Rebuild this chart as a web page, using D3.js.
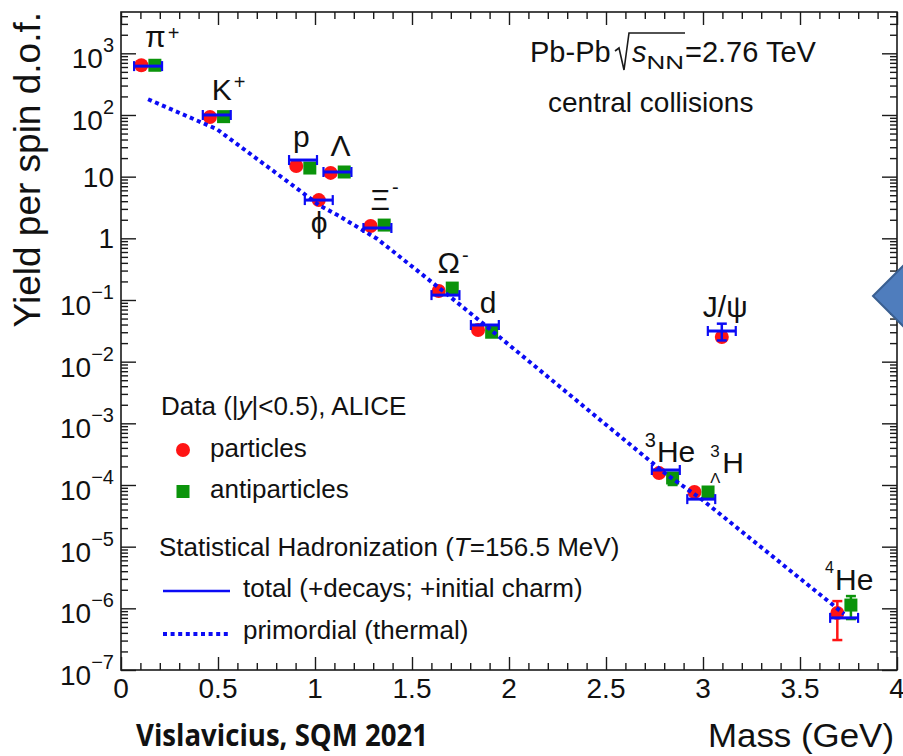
<!DOCTYPE html>
<html><head><meta charset="utf-8">
<script src="https://cdn.jsdelivr.net/npm/d3@7"></script>
<style>
html,body{margin:0;padding:0;background:#fff;}
svg{display:block;}
text{font-family:"Liberation Sans",Arial,Helvetica,sans-serif;fill:#111;}
</style></head><body>
<svg id="chart" width="903" height="756"></svg>
<script>
// ---------------- data ----------------
const species = ["pi+","K+","p","phi","Lambda","Xi-","Omega-","d","3He","3LH","J/psi","4He"];
const labelBase = ["π","K","p","ϕ","Λ","Ξ","Ω","d","He","H","J/ψ","He"];
const labelSup  = ["+","+","","","","-","-","","","","",""];
const labelPre  = ["","","","","","","","","3","3","","4"];
const labelPreSub = ["","","","","","","","","","Λ","",""];
const masses = [0.1396,0.4937,0.9383,1.0195,1.1157,1.3217,1.6725,1.8756,2.8084,2.991,3.0969,3.7274];
const particleYield     = [640,93,14.9,4.17,11.5,1.58,0.140,0.0326,1.56e-4,7.7e-5,0.0251,8.4e-7];
const antiparticleYield = [640,94,13.8,null,11.9,1.64,0.156,0.030,1.30e-4,7.7e-5,null,1.13e-6];
const modelTotal        = [620,100,18.6,4.17,11.9,1.47,0.12,0.0393,1.75e-4,5.9e-5,0.0314,7.0e-7];
const particleErr     = [null,null,null,null,null,null,null,null,null,null,null,[3.06e-7,1.31e-6]];
const antiparticleErr = [null,null,null,null,null,null,null,null,[1.0e-4,1.30e-4],null,null,[6.7e-7,1.58e-6]];
const modelErr        = [null,null,null,null,null,null,null,null,null,null,[0.0221,0.0413],null];
const hasAnti = [true,true,true,false,true,true,true,true,true,true,false,true];
const primordialMass  = [0.1396,0.4937,0.9383,1.0195,1.1157,1.3217,1.6725,1.8756,2.8084,2.991,3.7274];
const primordialYield = [180,59,5.43,3.47,2.38,0.975,0.130,0.0393,1.51e-4,5.93e-5,8.1e-7];
const xTicks = [0,0.5,1,1.5,2,2.5,3,3.5,4];
const yTickExponents = [-7,-6,-5,-4,-3,-2,-1,0,1,2,3];

// ---------------- layout / style ----------------
const X0=121,X1=897,Y0=670,Y1=12;
const BLUE="#0b0bf5", RED="#ff1414", GREEN="#0b940b", INK="#1a1a1a";
const markerOffset = 0.035, barHalf = 0.072;
// label offsets relative to particle point: [dx, dy, supDy, preDy]
const labelLayout = [[-3,-18,-7,0],[-5,-17,-11,0],[-10,-19,0,0],[-8,33,0,0],[-7,-17,0,0],[-7,-16,-16,0],
  [-8,-18,-11,0],[-5,-17,0,0],[-21,-11,0,-15],[9,-19,0,-16],[-19,-20,0,0],[-19,-23,0,-17]];
const preSize = [0,0,0,0,0,0,0,0,20,17,0,16];

const svg = d3.select("#chart");
svg.append("rect").attr("width",903).attr("height",756).attr("fill","#fff");
const x = d3.scaleLinear().domain([0,4]).range([X0,X1]);
const y = d3.scaleLog().domain([1e-7, Math.pow(10,3.67)]).range([Y0,Y1]);

// ---------------- axes ----------------
function clean(g){ g.select(".domain").remove(); g.selectAll(".tick text").remove();
  g.selectAll(".tick line").attr("stroke",INK).attr("stroke-width",1.4); }
const xMinor = d3.range(1,40).map(i=>i/10).filter(v=>Math.abs(v*2-Math.round(v*2))>1e-6);
const yMajor = yTickExponents.map(e=>Math.pow(10,e));
const yMinor = [];
yTickExponents.forEach(e=>{ for(let k=2;k<=9;k++){ const v=k*Math.pow(10,e); if(v<y.domain()[1]) yMinor.push(v);} });

svg.append("g").attr("transform",`translate(0,${Y0})`).call(d3.axisBottom(x).tickValues(xTicks).tickSizeInner(-13).tickSizeOuter(0).tickFormat("")).call(clean);
svg.append("g").attr("transform",`translate(0,${Y0})`).call(d3.axisBottom(x).tickValues(xMinor).tickSizeInner(-7).tickSizeOuter(0).tickFormat("")).call(clean);
svg.append("g").attr("transform",`translate(0,${Y1})`).call(d3.axisTop(x).tickValues(xTicks).tickSizeInner(-13).tickSizeOuter(0).tickFormat("")).call(clean);
svg.append("g").attr("transform",`translate(0,${Y1})`).call(d3.axisTop(x).tickValues(xMinor).tickSizeInner(-7).tickSizeOuter(0).tickFormat("")).call(clean);
svg.append("g").attr("transform",`translate(${X0},0)`).call(d3.axisLeft(y).tickValues(yMajor).tickSizeInner(-15).tickSizeOuter(0).tickFormat("")).call(clean);
svg.append("g").attr("transform",`translate(${X0},0)`).call(d3.axisLeft(y).tickValues(yMinor).tickSizeInner(-7).tickSizeOuter(0).tickFormat("")).call(clean);
svg.append("g").attr("transform",`translate(${X1},0)`).call(d3.axisRight(y).tickValues(yMajor).tickSizeInner(-15).tickSizeOuter(0).tickFormat("")).call(clean);
svg.append("g").attr("transform",`translate(${X1},0)`).call(d3.axisRight(y).tickValues(yMinor).tickSizeInner(-7).tickSizeOuter(0).tickFormat("")).call(clean);
svg.append("rect").attr("x",X0).attr("y",Y1).attr("width",X1-X0).attr("height",Y0-Y1)
  .attr("fill","none").attr("stroke",INK).attr("stroke-width",1.6);

// tick labels
svg.append("g").selectAll("text").data(xTicks).join("text")
  .attr("x",d=>x(d)).attr("y",698).attr("text-anchor","middle").attr("font-size",28).text(d=>String(d));
yTickExponents.forEach(e=>{
  const ty = y(Math.pow(10,e));
  if(e===0||e===1){
    svg.append("text").attr("x",114).attr("y",ty+10).attr("text-anchor","end").attr("font-size",28).text(e===0?"1":"10");
  } else {
    const t = svg.append("text").attr("x",114).attr("y",ty+15).attr("text-anchor","end").attr("font-size",28);
    t.append("tspan").text("10");
    t.append("tspan").attr("font-size",20).attr("dy",-16).text((e<0?"\u2212":"")+Math.abs(e));
  }
});

// axis titles
svg.append("text").attr("transform","translate(40,12) rotate(-90)").attr("text-anchor","end")
  .attr("font-size",37).text("Yield per spin d.o.f.");
svg.append("text").attr("x",894).attr("y",747).attr("text-anchor","end").attr("font-size",33)
  .attr("textLength",186).attr("lengthAdjust","spacingAndGlyphs").text("Mass (GeV)");

// ---------------- data marks ----------------
const gErr = svg.append("g");
function vErr(g, xp, lo, hi, color, cap){
  g.append("line").attr("x1",xp).attr("x2",xp).attr("y1",y(lo)).attr("y2",y(hi)).attr("stroke",color).attr("stroke-width",2.5);
  [lo,hi].forEach(v=>g.append("line").attr("x1",xp-cap).attr("x2",xp+cap).attr("y1",y(v)).attr("y2",y(v)).attr("stroke",color).attr("stroke-width",2.5));
}
masses.forEach((m,i)=>{
  const xp = hasAnti[i] ? x(m-markerOffset) : x(m);
  if(particleErr[i]) vErr(gErr, xp, particleErr[i][0], particleErr[i][1], RED, 5);
  if(antiparticleErr[i]) vErr(gErr, x(m+markerOffset), antiparticleErr[i][0], antiparticleErr[i][1], GREEN, 5);
});
svg.append("g").selectAll("circle").data(masses).join("circle")
  .attr("cx",(m,i)=>hasAnti[i]?x(m-markerOffset):x(m)).attr("cy",(m,i)=>y(particleYield[i]))
  .attr("r",7).attr("fill",RED);
svg.append("g").selectAll("rect").data(masses.filter((m,i)=>antiparticleYield[i]!=null)).join("rect")
  .each(function(m){
    const i = masses.indexOf(m);
    d3.select(this).attr("x",x(m+markerOffset)-6.5).attr("y",y(antiparticleYield[i])-6.5)
      .attr("width",13).attr("height",13).attr("fill",GREEN);
  });

// primordial dotted line
svg.append("path").datum(primordialMass.map((m,i)=>[m,primordialYield[i]]))
  .attr("d",d3.line().x(d=>x(d[0])).y(d=>y(d[1])))
  .attr("fill","none").attr("stroke",BLUE).attr("stroke-width",4).attr("stroke-dasharray","4,3.6");

// model total bars
const gBar = svg.append("g");
masses.forEach((m,i)=>{
  const yy = y(modelTotal[i]);
  gBar.append("line").attr("x1",x(m-barHalf)).attr("x2",x(m+barHalf)).attr("y1",yy).attr("y2",yy)
    .attr("stroke",BLUE).attr("stroke-width",3);
  [m-barHalf,m+barHalf].forEach(v=>gBar.append("line").attr("x1",x(v)).attr("x2",x(v))
    .attr("y1",yy-5).attr("y2",yy+5).attr("stroke",BLUE).attr("stroke-width",2.2));
  if(modelErr[i]) vErr(gBar, x(m), modelErr[i][0], modelErr[i][1], BLUE, 5);
});

// particle labels
masses.forEach((m,i)=>{
  const L = labelLayout[i];
  const g = svg.append("g").attr("transform",`translate(${x(m)+L[0]},${y(particleYield[i])+L[1]})`);
  let bx = 0;
  if(labelPre[i]){
    const p = g.append("text").attr("x",0).attr("y",L[3]).attr("font-size",preSize[i]).text(labelPre[i]);
    bx = p.node().getComputedTextLength()+1;
    if(labelPreSub[i]){
      const s = g.append("text").attr("x",0).attr("y",10).attr("font-size",15).text(labelPreSub[i]);
      bx = Math.max(bx, s.node().getComputedTextLength()+2);
    }
  }
  const b = g.append("text").attr("x",bx).attr("y",0).attr("font-size",30).text(labelBase[i]);
  if(labelSup[i]){
    const w = b.node().getComputedTextLength();
    g.append("text").attr("x",bx+w+2).attr("y",L[2]).attr("font-size",20).text(labelSup[i]);
  }
});

// ---------------- header texts ----------------
const t1 = svg.append("text").attr("x",530).attr("y",62).attr("font-size",29).text("Pb-Pb");
svg.append("path").attr("d","M615,51 L619,48 L624,70 L629,33 L685,33").attr("fill","none")
  .attr("stroke",INK).attr("stroke-width",1.6);
const ts = svg.append("text").attr("x",632).attr("y",62).attr("font-size",29).attr("font-style","italic").text("s");
const wsx = 632 + ts.node().getComputedTextLength();
svg.append("text").attr("x",wsx).attr("y",69).attr("font-size",19).attr("textLength",685-wsx-1)
  .attr("lengthAdjust","spacingAndGlyphs").text("NN");
svg.append("text").attr("x",685).attr("y",62).attr("font-size",29).text("=2.76 TeV");
svg.append("text").attr("x",548).attr("y",112).attr("font-size",28).text("central collisions");

// ---------------- legend ----------------
const lg = svg.append("g").attr("font-size",26);
const l1 = lg.append("text").attr("x",161).attr("y",415);
l1.append("tspan").text("Data (|");
l1.append("tspan").attr("font-style","italic").text("y");
l1.append("tspan").text("|<0.5), ALICE");
lg.append("circle").attr("cx",183).attr("cy",450).attr("r",7).attr("fill",RED);
lg.append("text").attr("x",210).attr("y",457).text("particles");
lg.append("rect").attr("x",176.5).attr("y",485).attr("width",13).attr("height",13).attr("fill",GREEN);
lg.append("text").attr("x",210).attr("y",498).text("antiparticles");
const l2 = lg.append("text").attr("x",159).attr("y",556);
l2.append("tspan").text("Statistical Hadronization (");
l2.append("tspan").attr("font-style","italic").text("T");
l2.append("tspan").text("=156.5 MeV)");
lg.append("line").attr("x1",163).attr("x2",230).attr("y1",591).attr("y2",591).attr("stroke",BLUE).attr("stroke-width",2.5);
lg.append("text").attr("x",243).attr("y",597).text("total (+decays; +initial charm)");
lg.append("line").attr("x1",163).attr("x2",229).attr("y1",634).attr("y2",634).attr("stroke",BLUE)
  .attr("stroke-width",4).attr("stroke-dasharray","4,3.6");
lg.append("text").attr("x",243).attr("y",639).text("primordial (thermal)");

// ---------------- annotations ----------------
svg.append("text").attr("x",136).attr("y",746).attr("font-size",30).attr("font-weight","bold")
  .style("font-family",'"Open Sans", "Noto Sans", sans-serif')
  .attr("textLength",292).attr("lengthAdjust","spacingAndGlyphs").text("Vislavicius, SQM 2021");
svg.append("path").attr("d","M873,296 L905,264 L905,328 Z").attr("fill","#4f7dbd")
  .attr("stroke","#3a5f91").attr("stroke-width",2);
</script>
</body></html>
